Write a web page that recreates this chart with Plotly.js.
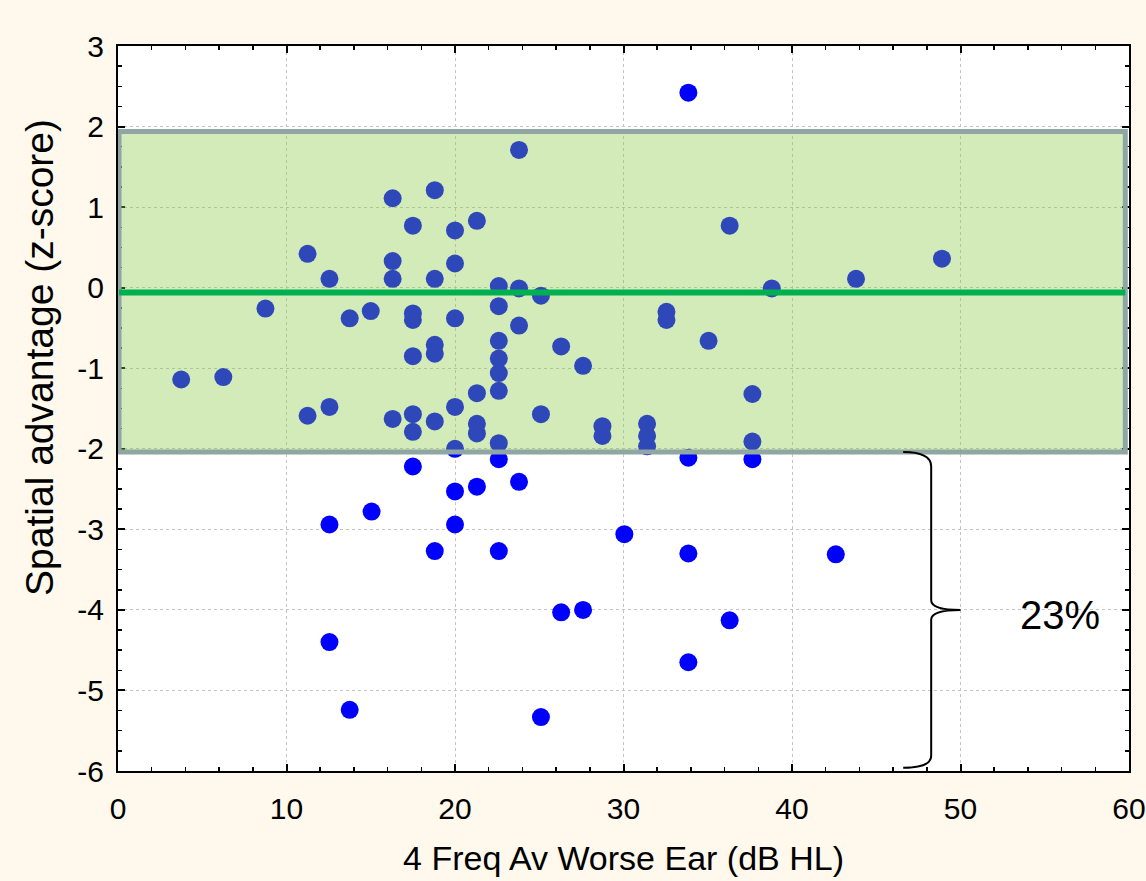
<!DOCTYPE html>
<html><head><meta charset="utf-8">
<script src="https://cdn.plot.ly/plotly-3.0.1.min.js"></script>
<style>html,body{margin:0;padding:0;background:#FEF9EC;} #chart{width:1146px;height:881px;}</style>
</head><body><div id="chart"></div>
<script>
// 4-frequency average hearing level of the worse ear (dB HL)
const hearingLoss = [
  3.75, 6.25, 8.75, 11.25, 11.25, 12.55, 12.55, 12.55, 12.55, 13.75, 13.75, 15.0, 15.05,
  16.3, 16.3, 16.3, 16.3, 17.5, 17.5, 17.5, 17.5, 17.5, 17.5, 17.5,
  18.8, 18.8, 18.8, 18.8, 18.8, 18.8, 20.0, 20.0, 20.0, 20.0, 20.0, 20.0, 20.0,
  21.3, 21.3, 21.3, 21.3, 21.3, 22.6, 22.6, 22.6, 22.6, 22.6, 22.6, 22.6, 22.6, 22.6,
  23.8, 23.8, 23.8, 23.8, 25.1, 25.1, 25.1, 26.3, 26.3, 27.6, 27.6, 28.75, 28.75,
  30.05, 31.4, 31.4, 31.4, 32.55, 32.55, 33.85, 33.85, 33.85, 33.85, 35.05,
  36.3, 36.3, 37.65, 37.65, 37.65, 38.8, 42.6, 43.8, 48.9
];
// Spatial advantage (z-score)
const spatialAdvantage = [
  -1.14, -1.11, -0.26, 0.42, -1.59, 0.11, -1.48, -2.94, -4.40, -0.38, -5.24, -0.29, -2.78,
  1.11, 0.33, 0.11, -1.63, 0.77, -0.32, -0.40, -0.85, -1.57, -1.79, -2.22,
  1.21, 0.11, -0.71, -0.82, -1.66, -3.27, 0.71, 0.30, -0.38, -1.48, -2.00, -2.53, -2.94,
  0.83, -1.31, -1.69, -1.81, -2.47, 0.02, -0.23, -0.66, -0.88, -1.06, -1.28, -1.93, -2.13, -3.27,
  1.71, -0.01, -0.47, -2.41, -0.10, -1.57, -5.33, -0.73, -4.03, -0.97, -4.00, -1.72, -1.84,
  -3.06, -1.69, -1.84, -1.97, -0.30, -0.40, 2.42, -2.11, -3.30, -4.65, -0.66,
  0.77, -4.13, -1.32, -1.91, -2.13, -0.01, -3.31, 0.11, 0.36
];
// Normal range (mean and +/- 2 SD band)
const normMean = -0.06;
const normLower = -2.04;
const normUpper = 1.94;
const bandXStart = 0.06;
const bandXEnd = 59.78;
// Brace marking the below-normal group
const braceTop = -2.04, braceBottom = -5.96, braceMid = -4.0;
const braceXEnd = 46.6, braceXStem = 48.26, braceXTip = 50.0;
const belowLabel = '23%';
const belowLabelPos = [55.9, -4.06];

const xTickVals = [0, 10, 20, 30, 40, 50, 60];
const xTickText = ['0', '10', '20', '30', '40', '50', '60'];
const yTickVals = [-6, -5, -4, -3, -2, -1, 0, 1, 2, 3];
const yTickText = ['-6', '-5', '-4', '-3', '-2', '-1', '0', '1', '2', '3'];
const xTitle = '4 Freq Av Worse Ear (dB HL)';
const yTitle = 'Spatial advantage (z-score)';

const tickFont = {family: 'Liberation Sans Narrow, Liberation Sans, Arial, sans-serif', size: 30, color: '#000'};
const titleFont = {family: 'Liberation Sans, Arial, sans-serif', size: 34, color: '#000'};

const trace = {
  type: 'scatter', mode: 'markers',
  x: hearingLoss, y: spatialAdvantage,
  marker: {color: '#0000FF', size: 18, line: {width: 0}},
  hoverinfo: 'x+y', showlegend: false
};

const bracePath =
  'M ' + braceXEnd + ',' + braceTop +
  ' Q ' + braceXStem + ',' + braceTop + ' ' + braceXStem + ',' + (braceTop - 0.18) +
  ' L ' + braceXStem + ',' + (braceMid + 0.12) +
  ' Q ' + braceXStem + ',' + braceMid + ' ' + braceXTip + ',' + braceMid +
  ' Q ' + braceXStem + ',' + braceMid + ' ' + braceXStem + ',' + (braceMid - 0.12) +
  ' L ' + braceXStem + ',' + (braceBottom + 0.15) +
  ' Q ' + braceXStem + ',' + braceBottom + ' ' + braceXEnd + ',' + braceBottom;

const axisCommon = {
  showline: true, linecolor: '#000', linewidth: 2, mirror: 'allticks',
  ticks: 'inside', ticklen: 7, tickwidth: 2, tickcolor: '#000',
  showgrid: true, gridcolor: '#c4c4c4', gridwidth: 1, griddash: 'dot',
  zeroline: false, tickfont: tickFont, fixedrange: true
};

const layout = {
  width: 1146, height: 881,
  paper_bgcolor: '#FEF9EC', plot_bgcolor: '#FFFFFF',
  margin: {l: 118, r: 17, t: 46, b: 110},
  xaxis: Object.assign({}, axisCommon, {
    range: [0, 60], tickvals: xTickVals, ticktext: xTickText,
    minor: {ticks: 'inside', dtick: 2, ticklen: 4, tickwidth: 1.5, tickcolor: '#000', showgrid: false},
    ticklabelstandoff: 10,
    title: {text: xTitle, font: titleFont, standoff: 22}
  }),
  yaxis: Object.assign({}, axisCommon, {
    range: [-6, 3], tickvals: yTickVals, ticktext: yTickText,
    minor: {ticks: 'inside', dtick: 0.25, ticklen: 4, tickwidth: 1.5, tickcolor: '#000', showgrid: false},
    ticklabelstandoff: 6
  }),
  shapes: [
    {type: 'rect', xref: 'x', yref: 'y', x0: bandXStart, x1: bandXEnd, y0: normLower, y1: normUpper,
     fillcolor: 'rgba(130,200,60,0.36)', line: {color: '#8FA6A4', width: 5}, layer: 'above'},
    {type: 'line', xref: 'x', yref: 'y', x0: bandXStart, x1: bandXEnd, y0: normMean, y1: normMean,
     line: {color: '#00B050', width: 6}, layer: 'above'},
    {type: 'path', xref: 'x', yref: 'y', path: bracePath, line: {color: '#000', width: 2}, layer: 'above'}
  ],
  annotations: [
    {xref: 'x', yref: 'y', x: belowLabelPos[0], y: belowLabelPos[1], text: belowLabel, showarrow: false,
     font: {family: 'Liberation Sans, Arial, sans-serif', size: 40, color: '#000'}, xanchor: 'center', yanchor: 'middle'},
    {xref: 'paper', yref: 'paper', x: -0.077, y: 0.57, text: yTitle, showarrow: false, textangle: -90,
     font: {family: 'Liberation Sans, Arial, sans-serif', size: 39, color: '#000'}, xanchor: 'center', yanchor: 'middle'}
  ]
};

Plotly.newPlot('chart', [trace], layout, {displayModeBar: false, staticPlot: true});
</script>
</body></html>
